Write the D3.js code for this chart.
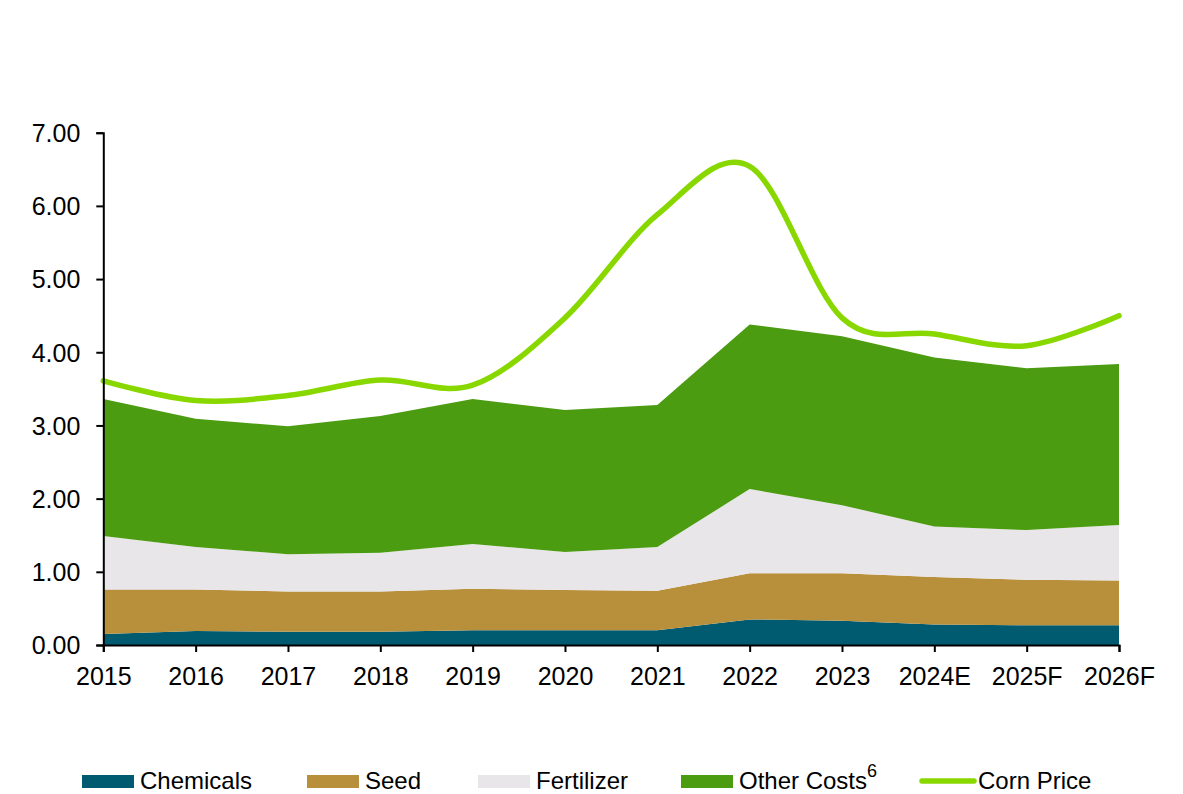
<!DOCTYPE html>
<html>
<head>
<meta charset="utf-8">
<script src="https://cdn.jsdelivr.net/npm/d3@7"></script>
<style>
  html, body { margin: 0; padding: 0; background: #fff; }
  svg { display: block; font-family: "Liberation Sans", Arial, sans-serif; }
</style>
</head>
<body>
<svg id="chart" width="1183" height="794"></svg>
<script>
// Production cost components ($/bu) stacked, with corn price overlaid
const years = ["2015", "2016", "2017", "2018", "2019", "2020", "2021", "2022", "2023", "2024E", "2025F", "2026F"];
const chemicals  = [0.15, 0.19, 0.18, 0.18, 0.20, 0.20, 0.20, 0.35, 0.33, 0.28, 0.27, 0.27];
const seed       = [0.61, 0.57, 0.55, 0.55, 0.57, 0.55, 0.54, 0.63, 0.65, 0.65, 0.62, 0.61];
const fertilizer = [0.73, 0.58, 0.51, 0.53, 0.61, 0.52, 0.60, 1.15, 0.93, 0.69, 0.68, 0.76];
const otherCosts = [1.87, 1.75, 1.75, 1.87, 1.98, 1.94, 1.94, 2.25, 2.31, 2.31, 2.21, 2.20];
const cornPrice  = [3.61, 3.34, 3.41, 3.62, 3.55, 4.47, 5.88, 6.54, 4.47, 4.25, 4.09, 4.50];
const yTicks = [0, 1, 2, 3, 4, 5, 6, 7];

const seriesKeys   = ["Chemicals", "Seed", "Fertilizer", "Other Costs"];
const seriesColors = ["#005a70", "#b8903c", "#e8e6e9", "#4b9c10"];
const lineColor = "#88d800";

const rows = years.map((yr, i) => ({
  year: yr,
  "Chemicals": chemicals[i],
  "Seed": seed[i],
  "Fertilizer": fertilizer[i],
  "Other Costs": otherCosts[i]
}));

const svg = d3.select("#chart");
const plot = { left: 103.3, right: 1119, top: 132.7, bottom: 645 };

const x = d3.scalePoint().domain(years).range([plot.left, plot.right]);
const y = d3.scaleLinear().domain([0, 7]).range([plot.bottom, plot.top]);

const stacked = d3.stack().keys(seriesKeys)(rows);

const area = d3.area()
  .x(d => x(d.data.year))
  .y0(d => y(d[0]))
  .y1(d => y(d[1]));

svg.append("g").selectAll("path")
  .data(stacked)
  .join("path")
  .attr("d", area)
  .attr("fill", (d, i) => seriesColors[i]);

// Smoothed corn price line
const line = d3.line()
  .x((d, i) => x(years[i]))
  .y(d => y(d))
  .curve(d3.curveCardinal.tension(0));

svg.append("path")
  .datum(cornPrice)
  .attr("d", line)
  .attr("fill", "none")
  .attr("stroke", lineColor)
  .attr("stroke-width", 5.5)
  .attr("stroke-linecap", "round");

// Axes
const yAxis = svg.append("g")
  .attr("transform", `translate(${plot.left},0)`)
  .call(d3.axisLeft(y).tickValues(yTicks).tickFormat(d3.format(".2f"))
    .tickSizeOuter(0).tickSize(7).tickPadding(16));

const xAxis = svg.append("g")
  .attr("transform", `translate(0,${plot.bottom})`)
  .call(d3.axisBottom(x).tickSizeOuter(0).tickSize(7).tickPadding(15));

[yAxis, xAxis].forEach(g => {
  g.selectAll("path.domain").attr("stroke", "#000").attr("stroke-width", 2);
  g.selectAll(".tick line").attr("stroke", "#000").attr("stroke-width", 2);
  g.selectAll("text")
    .attr("fill", "#000")
    .style("font-family", "'Liberation Sans', Arial, sans-serif")
    .style("font-size", "25px");
});
yAxis.selectAll("text").attr("dy", "0.35em");

// Legend
const legendItems = [
  { label: "Chemicals", color: seriesColors[0], x: 82, type: "box" },
  { label: "Seed", color: seriesColors[1], x: 307, type: "box" },
  { label: "Fertilizer", color: seriesColors[2], x: 478, type: "box" },
  { label: "Other Costs", sup: "6", color: seriesColors[3], x: 681, type: "box" },
  { label: "Corn Price", color: lineColor, x: 920, type: "line" }
];

const legend = svg.append("g");
legendItems.forEach(item => {
  const g = legend.append("g");
  if (item.type === "box") {
    g.append("rect").attr("x", item.x).attr("y", 775).attr("width", 52).attr("height", 13).attr("fill", item.color);
  } else {
    g.append("line").attr("x1", item.x + 2).attr("x2", item.x + 54).attr("y1", 781).attr("y2", 781)
      .attr("stroke", item.color).attr("stroke-width", 5.5).attr("stroke-linecap", "round");
  }
  const t = g.append("text")
    .attr("x", item.x + 58).attr("y", 789)
    .attr("fill", "#000")
    .style("font-size", "24px")
    .text(item.label);
  if (item.sup) {
    t.append("tspan").attr("dy", -12).style("font-size", "18px").text(item.sup);
  }
});
</script>
</body>
</html>
